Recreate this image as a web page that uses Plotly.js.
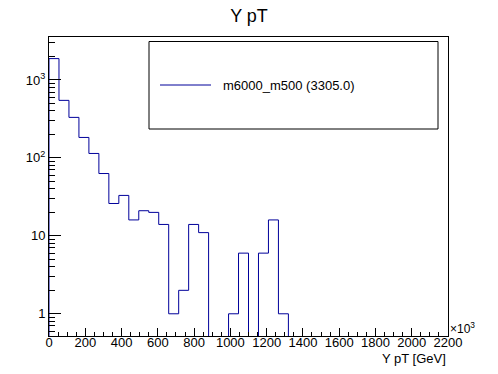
<!DOCTYPE html>
<html>
<head>
<meta charset="utf-8">
<script src="https://cdn.plot.ly/plotly-3.0.1.min.js"></script>
<style>
html, body { margin: 0; padding: 0; background: #ffffff; }
#chart { width: 498px; height: 374px; }
</style>
</head>
<body>
<div id="chart"></div>
<script>
// Histogram definition (ROOT-style TH1): 40 bins from 0 to 2200
var histName = "m6000_m500";
var histIntegral = "3305.0";
var xLow = 0;
var xHigh = 2200;
var nBins = 40;
var binCounts = [
  1879, 547, 331, 183, 114, 63, 26, 33, 16, 21,
  20, 14, 1, 2, 14, 11, 0, 0, 1, 6,
  0, 6, 16, 1, 0, 0, 0, 0, 0, 0,
  0, 0, 0, 0, 0, 0, 0, 0, 0, 0
];
var xTickVals = [0, 200, 400, 600, 800, 1000, 1200, 1400, 1600, 1800, 2000, 2200];
var yTickVals = [1, 10, 100, 1000];
var yTickText = ["1", "10", "10<sup>2</sup>", "10<sup>3</sup>"];

var FONT = "Liberation Sans, Arial, Helvetica, sans-serif";
var LINE_COLOR = "#00009a";
var FLOOR = 1e-3; // empty bins drawn below the visible log range

// Build step outline from bin edges and counts
var binWidth = (xHigh - xLow) / nBins;
var xs = [xLow];
var ys = [FLOOR];
for (var i = 0; i < nBins; i++) {
  xs.push(xLow + i * binWidth);
  ys.push(binCounts[i] > 0 ? binCounts[i] : FLOOR);
}
xs.push(xHigh);
ys.push(binCounts[nBins - 1] > 0 ? binCounts[nBins - 1] : FLOOR);
xs.push(xHigh);
ys.push(FLOOR);

var trace = {
  type: "scatter",
  mode: "lines",
  x: xs,
  y: ys,
  name: histName + " (" + histIntegral + ")",
  line: { color: LINE_COLOR, width: 1, shape: "hv" },
  showlegend: false,
  hoverinfo: "skip"
};

var layout = {
  width: 498,
  height: 374,
  margin: { l: 49, r: 50, t: 37, b: 38, pad: 0 },
  paper_bgcolor: "#ffffff",
  plot_bgcolor: "#ffffff",
  font: { family: FONT, size: 13, color: "#000000" },
  title: {
    text: "Y pT",
    x: 0.5, xref: "container", xanchor: "center",
    y: 1 - 16 / 374, yref: "container", yanchor: "middle",
    font: { family: FONT, size: 18, color: "#000000" }
  },
  xaxis: {
    range: [xLow, xHigh],
    showgrid: false,
    zeroline: false,
    showline: true,
    linecolor: "#000000",
    linewidth: 1,
    mirror: true,
    ticks: "inside",
    ticklen: 8,
    tickwidth: 1,
    tickcolor: "#000000",
    tickmode: "array",
    tickvals: xTickVals,
    ticktext: xTickVals.map(String),
    ticklabelstandoff: -6,
    tickfont: { family: FONT, size: 13, color: "#000000" },
    minor: { ticks: "inside", ticklen: 4, dtick: 50, tick0: 0, tickcolor: "#000000", tickwidth: 1, showgrid: false }
  },
  yaxis: {
    type: "log",
    range: [-0.285, 3.551],
    showgrid: false,
    zeroline: false,
    showline: true,
    linecolor: "#000000",
    linewidth: 1,
    mirror: true,
    ticks: "inside",
    ticklen: 12,
    tickwidth: 1,
    tickcolor: "#000000",
    tickmode: "array",
    tickvals: yTickVals,
    ticktext: yTickText,
    tickfont: { family: FONT, size: 13, color: "#000000" },
    minor: { ticks: "inside", ticklen: 6, dtick: "D1", tickcolor: "#000000", tickwidth: 1, showgrid: false }
  },
  shapes: [
    {
      type: "rect", xref: "paper", yref: "paper",
      x0: (149 - 49) / 399, x1: (438 - 49) / 399,
      y0: (336 - 129) / 299, y1: (336 - 41.5) / 299,
      line: { color: "#000000", width: 1 }, fillcolor: "#ffffff", layer: "above"
    },
    {
      type: "line", xref: "paper", yref: "paper",
      x0: (160 - 49) / 399, x1: (211 - 49) / 399,
      y0: (336 - 85) / 299, y1: (336 - 85) / 299,
      line: { color: LINE_COLOR, width: 1 }, layer: "above"
    }
  ],
  annotations: [
    {
      text: histName + " (" + histIntegral + ")",
      xref: "paper", yref: "paper",
      x: (221 - 49) / 399, y: (336 - 85) / 299,
      xanchor: "left", yanchor: "middle", showarrow: false,
      font: { family: FONT, size: 13, color: "#000000" }
    },
    {
      text: "×10<sup>3</sup>",
      xref: "paper", yref: "paper",
      x: 1, y: (336 - 328) / 299,
      xanchor: "left", yanchor: "middle", showarrow: false,
      font: { family: FONT, size: 12, color: "#000000" }
    },
    {
      text: "Y pT [GeV]",
      xref: "paper", yref: "paper",
      x: 1, y: (336 - 358) / 299,
      xanchor: "right", yanchor: "middle", showarrow: false,
      font: { family: FONT, size: 13, color: "#000000" }
    }
  ]
};

Plotly.newPlot("chart", [trace], layout, { staticPlot: true, displayModeBar: false });
</script>
</body>
</html>
